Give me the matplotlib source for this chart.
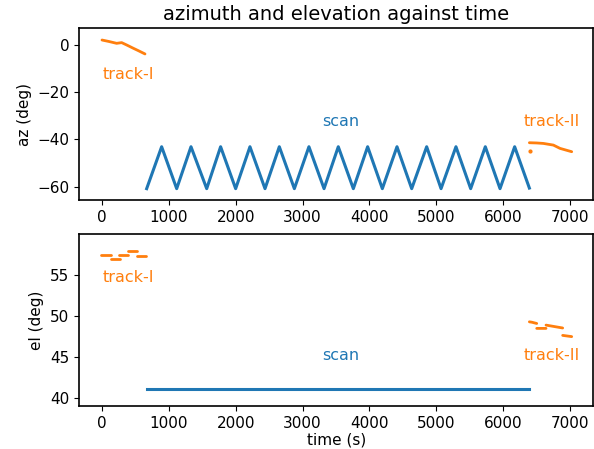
import numpy as np
import matplotlib
matplotlib.use("Agg")
import matplotlib.pyplot as plt

# ---- data ----
# scan azimuth: turning points (time s, az deg)
scan_t = [668, 892, 1117, 1331, 1566, 1774, 1999, 2213, 2438, 2652, 2877, 3095,
          3321, 3534, 3759, 3973, 4193, 4412, 4632, 4856, 5071, 5294, 5514,
          5733, 5953, 6172, 6392]
scan_az = [-60.85, -43.1, -60.85, -43.1, -60.85, -43.1, -60.85, -43.1, -60.85,
           -43.1, -60.85, -43.1, -60.85, -43.1, -60.85, -43.1, -60.85, -43.1,
           -60.85, -43.1, -60.85, -43.1, -60.85, -43.1, -60.85, -43.1, -60.6]
scan_el_t = [668, 6392]
scan_el = [41.1, 41.1]

# track-I azimuth
trk1_az_t = [0, 100, 219, 294, 369, 469, 543, 643]
trk1_az = [2.1, 1.5, 0.7, 1.0, 0.0, -1.4, -2.4, -3.8]
# track-II azimuth
trk2_az_t = [6392, 6500, 6602, 6751, 6851, 6950, 7025]
trk2_az = [-41.4, -41.5, -41.7, -42.4, -43.8, -44.6, -45.2]
trk2_az_dot_t = [6402]
trk2_az_dot = [-44.9]

# track-I elevation (piecewise dashes, NaN separates)
trk1_el_t = [-10, 130, np.nan, 130, 269, np.nan, 259, 390, np.nan, 385, 519, np.nan, 519, 658]
trk1_el = [57.4, 57.4, np.nan, 56.95, 56.95, np.nan, 57.4, 57.4, np.nan, 57.96, 57.96, np.nan, 57.35, 57.35]
# track-II elevation
trk2_el_t = [6392, 6430, 6502, np.nan, 6502, 6641, np.nan, 6641, 6890, np.nan, 6890, 7025]
trk2_el = [49.3, 49.25, 49.1, np.nan, 48.5, 48.5, np.nan, 48.9, 48.55, np.nan, 47.65, 47.5]

labels = ["track-I", "scan", "track-II"]

fig = plt.figure(figsize=(5.94, 4.49), dpi=100)
ax1 = fig.add_axes([0.133, 0.5546, 0.8658, 0.3824])
ax2 = fig.add_axes([0.133, 0.0958, 0.8658, 0.3824])

C0, C1 = "#1f77b4", "#ff7f0e"

ax1.plot(scan_t, scan_az, color=C0, lw=2.2)
ax1.plot(trk1_az_t, trk1_az, color=C1, lw=2.0, solid_capstyle="round")
ax1.plot(trk2_az_t, trk2_az, color=C1, lw=2.0, solid_capstyle="round")
ax1.plot(trk2_az_dot_t, trk2_az_dot, "o", color=C1, ms=2)
ax1.set_xlim(-344, 7348)
ax1.set_ylim(-65.65, 7.07)
ax1.set_yticks([0, -20, -40, -60])
ax1.set_ylabel("az (deg)", fontsize=11)
ax1.set_title("azimuth and elevation against time", fontsize=14)
ax1.text(389, -12.7, labels[0], color=C1, fontsize=11.5, ha="center", va="center")
ax1.text(3574, -32.5, labels[1], color=C0, fontsize=11.5, ha="center", va="center")
ax1.text(6721, -32.5, labels[2], color=C1, fontsize=11.5, ha="center", va="center")

ax2.plot(scan_el_t, scan_el, color=C0, lw=2.2)
ax2.plot(trk1_el_t, trk1_el, color=C1, lw=2.0, solid_capstyle="round")
ax2.plot(trk2_el_t, trk2_el, color=C1, lw=2.0, solid_capstyle="round")
ax2.set_xlim(-344, 7348)
ax2.set_ylim(39.06, 59.95)
ax2.set_yticks([40, 45, 50, 55])
ax2.set_ylabel("el (deg)", fontsize=11)
ax2.set_xlabel("time (s)", fontsize=11, labelpad=1.5)
ax2.text(389, 54.67, labels[0], color=C1, fontsize=11.5, ha="center", va="center")
ax2.text(3574, 45.18, labels[1], color=C0, fontsize=11.5, ha="center", va="center")
ax2.text(6721, 45.18, labels[2], color=C1, fontsize=11.5, ha="center", va="center")

for ax in (ax1, ax2):
    ax.set_xticks([0, 1000, 2000, 3000, 4000, 5000, 6000, 7000])
    ax.tick_params(labelsize=11)
    for s in ax.spines.values():
        s.set_linewidth(1.2)

fig.savefig("out.png", dpi=100)
